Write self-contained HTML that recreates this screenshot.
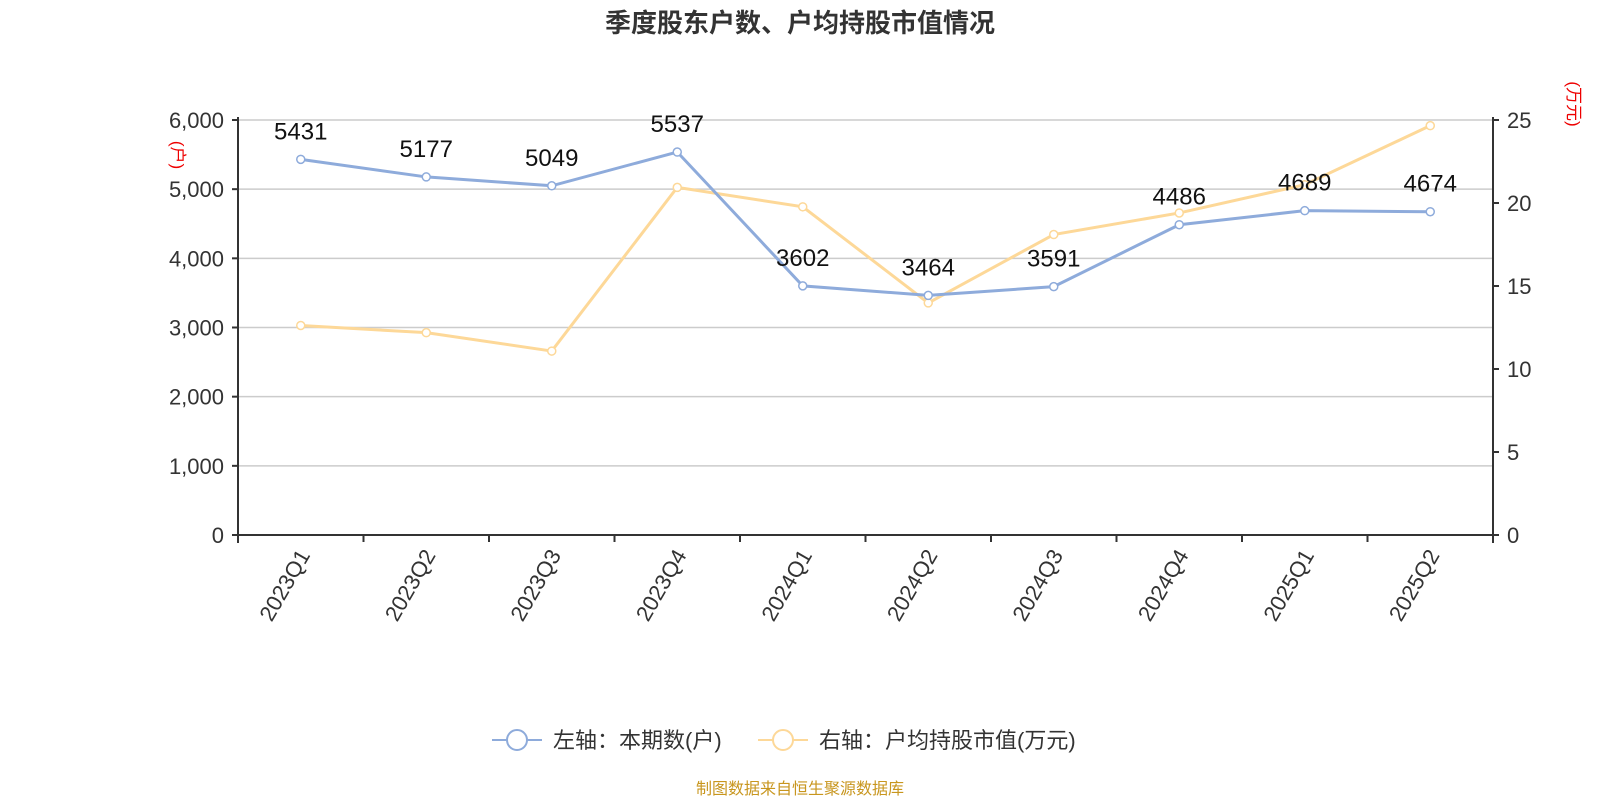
<!DOCTYPE html>
<html><head><meta charset="utf-8"><style>
body{margin:0;background:#fff;width:1600px;height:800px;overflow:hidden;font-family:"Liberation Sans","Noto Sans CJK SC",sans-serif}
</style></head><body>
<svg id="chart" width="1600" height="800" xmlns="http://www.w3.org/2000/svg" font-family="Liberation Sans, Noto Sans CJK SC, sans-serif">
<text x="800" y="32" text-anchor="middle" font-size="26" font-weight="bold" fill="#333">季度股东户数、户均持股市值情况</text>
<g id="grid"></g><g id="axes"></g><g id="series"></g>
<text transform="translate(172,155) rotate(90)" text-anchor="middle" font-size="17" fill="#e00">(户)</text>
<text transform="translate(1568,104) rotate(90)" text-anchor="middle" font-size="17" fill="#e00">(万元)</text>
<g>
<g><line x1="492" y1="740" x2="542" y2="740" stroke="#8eabdb" stroke-width="2"/><circle cx="517" cy="740" r="10" fill="#fff" stroke="#8eabdb" stroke-width="2"/><text x="553" y="748" font-size="22" fill="#333">左轴：本期数(户)</text></g>
<g><line x1="758" y1="740" x2="808" y2="740" stroke="#fdd898" stroke-width="2"/><circle cx="783" cy="740" r="10" fill="#fff" stroke="#fdd898" stroke-width="2"/><text x="819" y="748" font-size="22" fill="#333">右轴：户均持股市值(万元)</text></g>
</g>
<text x="800" y="794" text-anchor="middle" font-size="16" fill="#c8961e">制图数据来自恒生聚源数据库</text>
</svg>
<script>
const categories=["2023Q1","2023Q2","2023Q3","2023Q4","2024Q1","2024Q2","2024Q3","2024Q4","2025Q1","2025Q2"];
const holders=[5431,5177,5049,5537,3602,3464,3591,4486,4689,4674];
const avgValue=[12.62,12.19,11.08,20.94,19.77,13.98,18.1,19.4,21.1,24.66];
const leftTicks=[0,1000,2000,3000,4000,5000,6000];
const rightTicks=[0,5,10,15,20,25];
const X0=238,X1=1493,Y0=535,Y1=120;
const NS="http://www.w3.org/2000/svg";
const band=(X1-X0)/categories.length;
const xs=i=>X0+band*(i+0.5);
const yl=v=>Y0-(v/6000)*(Y0-Y1);
const yr=v=>Y0-(v/25)*(Y0-Y1);
function mk(tag,attrs,parent,text){const e=document.createElementNS(NS,tag);for(const k in attrs)e.setAttribute(k,attrs[k]);if(text!==undefined)e.textContent=text;document.getElementById(parent).appendChild(e);return e;}
leftTicks.forEach(v=>{
 if(v>0){const g=mk('line',{x1:X0,x2:X1,y1:yl(v),y2:yl(v),stroke:'#ccc','stroke-width':1.5},'grid');
 
 }
 const t=mk('text',{x:X0-14,y:yl(v)+8,'text-anchor':'end','font-size':22,fill:'#333'},'axes',v.toLocaleString('en-US'));
 
 
 mk('line',{x1:X0-6,x2:X0,y1:yl(v),y2:yl(v),stroke:'#333','stroke-width':2},'axes');
});
rightTicks.forEach(v=>{
 const t=mk('text',{x:X1+14,y:yr(v)+8,'font-size':22,fill:'#333'},'axes',v);
 
 
 mk('line',{x1:X1,x2:X1+6,y1:yr(v),y2:yr(v),stroke:'#333','stroke-width':2},'axes');
});
mk('line',{x1:X0,x2:X0,y1:Y1-3,y2:Y0+8,stroke:'#333','stroke-width':2},'axes');
mk('line',{x1:X1,x2:X1,y1:Y1-3,y2:Y0+8,stroke:'#333','stroke-width':2},'axes');
mk('line',{x1:X0,x2:X1,y1:Y0,y2:Y0,stroke:'#333','stroke-width':2},'axes');
for(let i=0;i<=categories.length;i++)mk('line',{x1:X0+band*i,x2:X0+band*i,y1:Y0,y2:Y0+7,stroke:'#333','stroke-width':2},'axes');
categories.forEach((c,i)=>{
 const t=mk('text',{transform:`translate(${xs(i)+10},${Y0+20}) rotate(-60)`,'text-anchor':'end','font-size':22,fill:'#333'},'axes',c);
 
 
});
function line(vals,fy,color,name){
 const p=mk('polyline',{points:vals.map((v,i)=>xs(i)+','+fy(v)).join(' '),fill:'none',stroke:color,'stroke-width':3},'series');
 
 
 vals.forEach((v,i)=>{const c=mk('circle',{cx:xs(i),cy:fy(v),r:4,fill:'#fff',stroke:color,'stroke-width':1.5},'series');
 
 });
}
line(avgValue,yr,'#fdd898','avg-value');
line(holders,yl,'#8eabdb','holders');
holders.forEach((v,i)=>{
 const t=mk('text',{x:xs(i),y:yl(v)-20,'text-anchor':'middle','font-size':24,fill:'#111'},'series',v);
 
 
});
</script>
</body></html>
